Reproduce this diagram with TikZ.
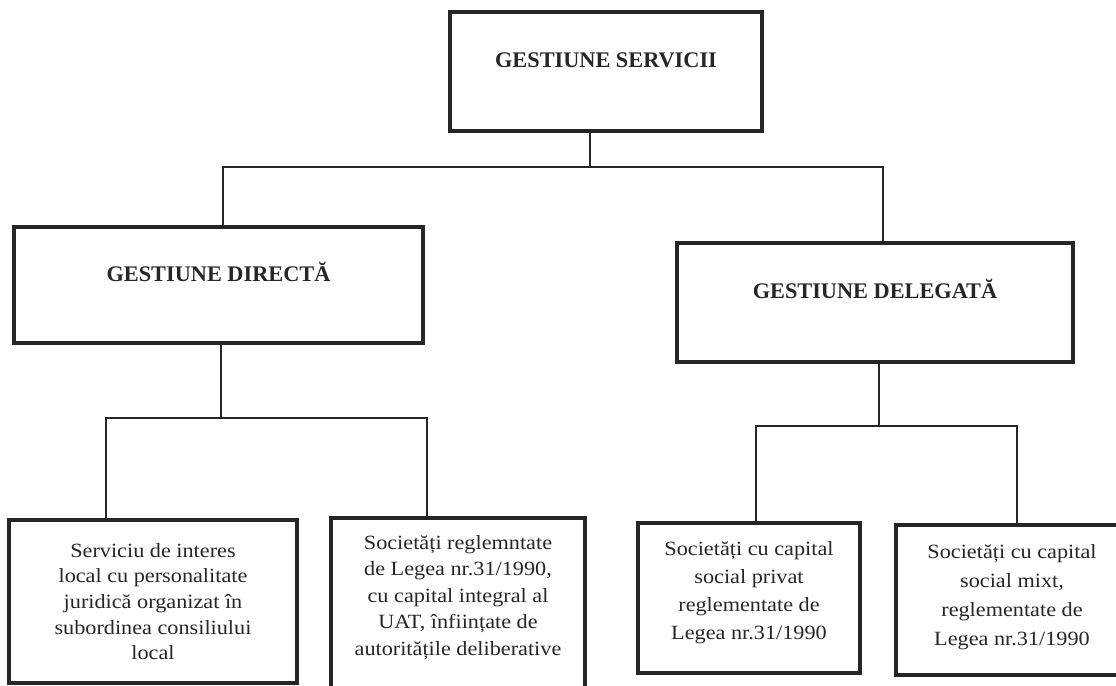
\documentclass[tikz,border=0pt]{standalone}
\usepackage{fontspec}
\setmainfont{Liberation Serif}
\newfontfamily\leaffont[FakeStretch=1.1]{Liberation Serif}
\definecolor{ink}{HTML}{262626}
\begin{document}
\begin{tikzpicture}[x=.02cm,y=-.02cm,
	head/.style={draw=ink,line width=2.3pt,text=ink,inner sep=0pt,
		font=\fontsize{12.7}{15}\selectfont\bfseries,text height=9pt,text depth=13pt},
	leaf/.style={draw=ink,line width=2.3pt,text=ink,inner sep=0pt,align=center},
	conn/.style={draw=ink,line width=.8pt}]
	\useasboundingbox (0,0) rectangle (1116,686);
	\path
	(606,71.5) node (top)[head,minimum width=6.24cm,minimum height=2.38cm]
	{GESTIUNE SERVICII}          % <<< nivel 1
	(218.5,285) node (dir)[head,minimum width=8.18cm,minimum height=2.32cm]
	{GESTIUNE DIRECTĂ}           % <<< nivel 2
	(875,302.5) node (del)[head,minimum width=7.92cm,minimum height=2.38cm]
	{GESTIUNE DELEGATĂ}
	(153,601.5) node (b1)[leaf,minimum width=5.76cm,minimum height=3.26cm,
	font=\leaffont\fontsize{11.5}{14.6}\selectfont]
	{Serviciu de interes\\local cu personalitate\\juridică organizat în\\subordinea consiliului\\local}   % <<< nivel 3
	(458,604) node (b2)[leaf,minimum width=5.08cm,minimum height=3.44cm,text depth=10pt,
	font=\leaffont\fontsize{11.5}{15.1}\selectfont]
	{Societăți reglemntate\\de Legea nr.31/1990,\\cu capital integral al\\UAT, înființate de\\autoritățile deliberative}
	(749,598) node (b3)[leaf,minimum width=4.44cm,minimum height=3cm,text depth=8.3pt,
	font=\leaffont\fontsize{11.5}{15.9}\selectfont]
	{Societăți cu capital\\social privat\\reglementate de\\Legea nr.31/1990}
	(1012,600) node (b4)[leaf,minimum width=4.64cm,minimum height=3cm,text depth=5.9pt,
	font=\leaffont\fontsize{11.5}{16.4}\selectfont]
	{Societăți cu capital\\social mixt,\\reglementate de\\Legea nr.31/1990};
	\coordinate (busA) at (590,167);
	\coordinate (busL) at (223,167);
	\coordinate (busR) at (883,167);
	\coordinate (dirA) at (221,418);
	\coordinate (dirL) at (106,418);
	\coordinate (dirR) at (427,418);
	\coordinate (delA) at (879,426);
	\coordinate (delL) at (756,426);
	\coordinate (delR) at (1017,426);
	\draw[conn] (top.south -| busA)--(busA);
	\draw[conn] (dir.north -| busL)--(busL)--(busR)--(del.north -| busR);
	\draw[conn] (dir.south -| dirA)--(dirA);
	\draw[conn] (b1.north -| dirL)--(dirL)--(dirR)--(b2.north -| dirR);
	\draw[conn] (del.south -| delA)--(delA);
	\draw[conn] (b3.north -| delL)--(delL)--(delR)--(b4.north -| delR);
\end{tikzpicture}
\end{document}
